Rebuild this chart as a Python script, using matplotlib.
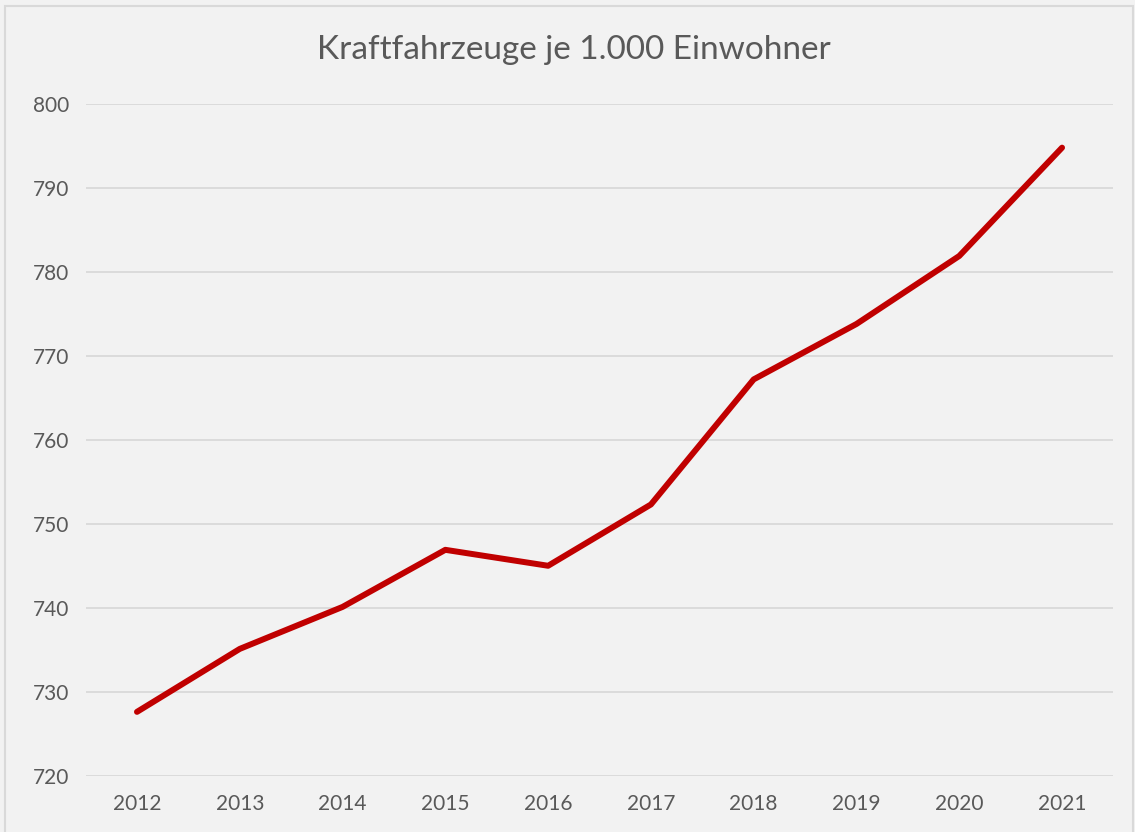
import matplotlib.pyplot as plt
from matplotlib.patches import Rectangle

YEARS = ["2012", "2013", "2014", "2015", "2016", "2017", "2018", "2019", "2020", "2021"]
VEHICLES_PER_1000 = [727.6, 735.1, 740.1, 746.9, 745.0, 752.3, 767.2, 773.8, 781.9, 794.8]
Y_TICKS = [720, 730, 740, 750, 760, 770, 780, 790, 800]


def main():
    plt.rcParams["font.family"] = ["Lato", "DejaVu Sans"]
    bg = "#F2F2F2"
    text_col = "#595959"

    fig = plt.figure(figsize=(11.35, 8.32), dpi=100, facecolor=bg)
    ax = fig.add_axes([0.0754, 0.0677, 0.9056, 0.8073])
    ax.set_facecolor(bg)

    x_pos = range(len(YEARS))
    ax.plot(x_pos, VEHICLES_PER_1000, color="#C00000", linewidth=4.3,
            solid_capstyle="round", solid_joinstyle="round", zorder=3)

    ax.set_xlim(-0.5, len(YEARS) - 0.5)
    ax.set_ylim(720, 800)
    ax.set_yticks(Y_TICKS)
    ax.set_xticks(list(x_pos))
    ax.set_xticklabels(YEARS)
    ax.grid(True, axis="y", color="#D9D9D9", linewidth=1.3)
    ax.set_axisbelow(True)
    for side in ["top", "right", "left", "bottom"]:
        ax.spines[side].set_visible(False)
    ax.tick_params(axis="both", length=0, labelsize=15, colors=text_col)
    ax.tick_params(axis="x", pad=13)
    ax.tick_params(axis="y", pad=12)

    fig.text(0.506, 0.94, "Kraftfahrzeuge je 1.000 Einwohner", ha="center",
             va="center", fontsize=24, color=text_col)

    # light border around the chart
    fig.patches.append(Rectangle((0.004, -0.01), 0.994, 1.003, transform=fig.transFigure,
                                 fill=False, edgecolor="#D9D9D9", linewidth=1.5))

    fig.savefig("out.png", dpi=100, facecolor=bg)


if __name__ == "__main__":
    main()
